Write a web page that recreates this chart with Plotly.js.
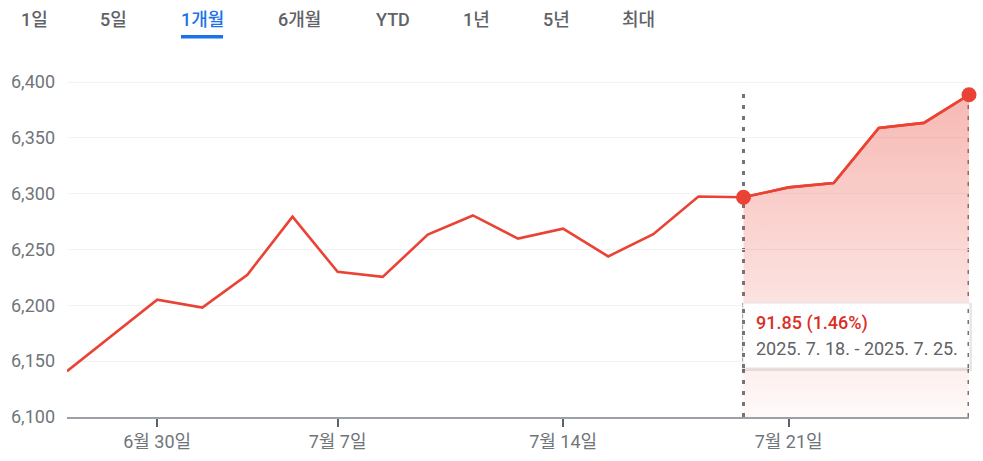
<!DOCTYPE html>
<html>
<head>
<meta charset="utf-8">
<script src="https://cdn.plot.ly/plotly-3.0.1.min.js"></script>
<style>
  html, body { margin: 0; padding: 0; background: #fff; }
  #chart { width: 983px; height: 461px; }
</style>
</head>
<body>
<div id="chart"></div>
<script>
// ---- data ----
const dates = ['2025-06-26','2025-06-27','2025-06-30','2025-07-01','2025-07-02','2025-07-03',
  '2025-07-07','2025-07-08','2025-07-09','2025-07-10','2025-07-11','2025-07-14','2025-07-15',
  '2025-07-16','2025-07-17','2025-07-18','2025-07-21','2025-07-22','2025-07-23','2025-07-24','2025-07-25'];
const closes = [6141.0, 6173.1, 6205.0, 6198.0, 6227.4, 6279.4,
  6230.0, 6225.5, 6263.3, 6280.5, 6259.8, 6268.6, 6243.8,
  6263.7, 6297.4, 6296.8, 6305.6, 6309.6, 6358.9, 6363.4, 6388.6];
const rangeStart = '2025-07-18';
const rangeEnd = '2025-07-25';
const xTickVals = ['2025-06-30','2025-07-07','2025-07-14','2025-07-21'];
const xTickText = ['6월 30일','7월 7일','7월 14일','7월 21일'];
const yTickVals = [6100, 6150, 6200, 6250, 6300, 6350, 6400];
const tabs = ['1일','5일','1개월','6개월','YTD','1년','5년','최대'];
const activeTab = '1개월';
const changeText = '91.85 (1.46%)';
const periodText = '2025. 7. 18. - 2025. 7. 25.';

// ---- derived ----
const i0 = dates.indexOf(rangeStart), i1 = dates.indexOf(rangeEnd);
const selDates = dates.slice(i0, i1 + 1);
const selVals = closes.slice(i0, i1 + 1);

const RED = '#ea4335';
const FONT = 'Roboto, "Noto Sans CJK KR", sans-serif';

const traces = [
  {
    x: dates, y: closes, type: 'scatter', mode: 'lines',
    line: { color: RED, width: 2.6 },
    hoverinfo: 'skip', showlegend: false
  },
  {
    x: selDates, y: selVals, type: 'scatter', mode: 'none',
    fill: 'tozeroy',
    fillgradient: {
      type: 'vertical', start: 6100, stop: 6395,
      colorscale: [[0, 'rgba(234,67,53,0.03)'], [1, 'rgba(234,67,53,0.38)']]
    },
    hoverinfo: 'skip', showlegend: false
  },
  {
    x: selDates, y: selVals, type: 'scatter', mode: 'lines',
    line: { color: RED, width: 2.6 },
    hoverinfo: 'skip', showlegend: false
  },
  {
    x: [rangeStart, rangeEnd], y: [closes[i0], closes[i1]],
    type: 'scatter', mode: 'markers',
    marker: { color: RED, size: 15 },
    cliponaxis: false, hoverinfo: 'skip', showlegend: false
  }
];

// pixel helpers for decorations (plot area: x 67..969, y 62..417)
const L = 67, R = 969, T = 62, B = 417;
const px = v => (v - L) / (R - L);
const py = v => (B - v) / (B - T);

const tabCenters = [34, 113, 202, 299, 393, 476, 556, 638];
const annotations = tabs.map((t, i) => ({
  text: t, xref: 'paper', yref: 'paper', x: px(tabCenters[i]), y: py(20),
  xanchor: 'center', yanchor: 'middle', showarrow: false,
  font: { family: FONT, size: 18, weight: 500, color: t === activeTab ? '#1a73e8' : '#5f6368' }
}));
annotations.push({
  text: changeText, xref: 'paper', yref: 'paper', x: px(754), y: py(323),
  xanchor: 'left', yanchor: 'middle', showarrow: false,
  font: { family: FONT, size: 18, weight: 500, color: '#d93025' }
});
annotations.push({
  text: periodText, xref: 'paper', yref: 'paper', x: px(754), y: py(348),
  xanchor: 'left', yanchor: 'middle', showarrow: false,
  font: { family: FONT, size: 18, color: '#5f6368' }
});

const dotted = { color: '#757575', width: 3, dash: '4px,7px' };
const shapes = [
  { type: 'line', xref: 'x', yref: 'paper', x0: rangeStart, x1: rangeStart, y0: 0, y1: py(88), line: dotted, layer: 'below' },
  { type: 'line', xref: 'x', yref: 'paper', x0: rangeEnd, x1: rangeEnd, y0: 0, y1: py(88), line: dotted, layer: 'below' },
  // tooltip shadow
  { type: 'rect', xref: 'paper', yref: 'paper', x0: px(742), x1: px(972), y0: py(371), y1: py(303),
    fillcolor: 'rgba(0,0,0,0.09)', line: { width: 0 }, layer: 'above' },
  // tooltip box
  { type: 'rect', xref: 'paper', yref: 'paper', x0: px(743), x1: px(970), y0: py(368), y1: py(303),
    fillcolor: '#ffffff', line: { color: '#e3e3e3', width: 1 }, layer: 'above' },
  // dotted guides visible on the tooltip edges
  { type: 'line', xref: 'x', yref: 'paper', x0: rangeStart, x1: rangeStart, y0: py(368), y1: py(303), line: dotted, layer: 'above' },
  { type: 'line', xref: 'x', yref: 'paper', x0: rangeEnd, x1: rangeEnd, y0: py(368), y1: py(303), line: dotted, layer: 'above' },
  // active tab underline
  { type: 'rect', xref: 'paper', yref: 'paper', x0: px(181), x1: px(223), y0: py(38.5), y1: py(35),
    fillcolor: '#1a73e8', line: { width: 0 } }
];

const layout = {
  width: 983, height: 461,
  margin: { l: L, r: 983 - R, t: T, b: 461 - B },
  paper_bgcolor: '#fff', plot_bgcolor: '#fff',
  font: { family: FONT, color: '#70757a' },
  showlegend: false,
  xaxis: {
    type: 'category', categoryorder: 'array', categoryarray: dates,
    range: [0, 20],
    tickvals: xTickVals, ticktext: xTickText,
    ticks: 'outside', ticklen: 8, tickwidth: 2, tickcolor: '#5f6368',
    showgrid: false, showline: true, linecolor: '#9aa0a6', linewidth: 1.5,
    tickfont: { family: FONT, size: 18, color: '#70757a' },
    fixedrange: true
  },
  yaxis: {
    range: [6100, 6100 + (B - T) / (335 / 300)],
    tickvals: yTickVals, tickformat: ',',
    showgrid: true, gridcolor: '#f1f3f4', gridwidth: 1,
    zeroline: false, showline: false, ticks: '',
    ticklabelstandoff: 11,
    tickfont: { family: FONT, size: 18, color: '#70757a' },
    fixedrange: true
  },
  shapes: shapes,
  annotations: annotations
};

Plotly.newPlot('chart', traces, layout, { displayModeBar: false, staticPlot: true });
</script>
</body>
</html>
